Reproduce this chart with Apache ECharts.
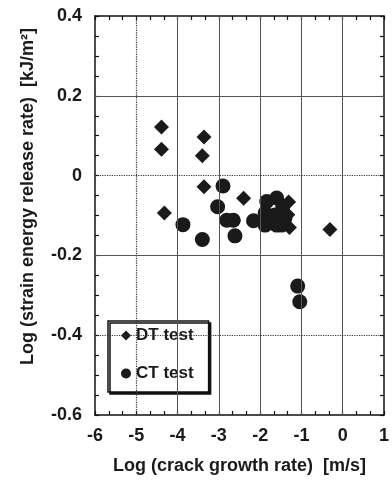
<!DOCTYPE html>
<html>
<head>
<meta charset="utf-8">
<script src="https://cdn.jsdelivr.net/npm/echarts@6/dist/echarts.min.js"></script>
<style>
html,body{margin:0;padding:0;background:#fff;}
#chart{width:392px;height:495px;}
</style>
</head>
<body>
<div id="chart"></div>
<script>
// DT test (diamonds)
var dtX = [-4.39, -4.39, -3.36, -3.40, -3.36, -4.32, -2.40, -1.31, -1.33, -1.29, -0.31];
var dtY = [0.122, 0.066, 0.097, 0.050, -0.028, -0.094, -0.057, -0.066, -0.098, -0.130, -0.135];
// CT test (circles)
var ctX = [-2.90, -3.03, -3.87, -3.40, -2.81, -2.65, -2.61, -2.16, -1.84, -1.60, -1.45, -1.88, -1.64, -1.40, -1.88, -1.60, -1.48, -1.09, -1.04];
var ctY = [-0.026, -0.078, -0.123, -0.160, -0.112, -0.112, -0.151, -0.113, -0.065, -0.056, -0.077, -0.094, -0.099, -0.107, -0.124, -0.124, -0.124, -0.277, -0.316];
// grid lines
var gridXSolid = [-4, -3, -2, -1, 0];
var gridXDotted = [-5];
var gridYSolid = [0.2, -0.2];
var gridYDotted = [0, -0.4];

var seriesNames = ['DT test', 'CT test'];
var xName = 'Log (crack growth rate)  [m/s]';
var yName = 'Log (strain energy release rate)  [kJ/m\u00B2]';

function zip(a, b) { return a.map(function (v, i) { return [v, b[i]]; }); }

var ink = '#1a1a1a';
var font = 'Liberation Sans, Arial, sans-serif';

var markData = [];
gridXSolid.forEach(function (v) { markData.push({ xAxis: v, lineStyle: { type: 'solid', color: '#555', width: 1 } }); });
gridXDotted.forEach(function (v) { markData.push({ xAxis: v, lineStyle: { type: 'dotted', color: '#333', width: 1.2 } }); });
gridYSolid.forEach(function (v) { markData.push({ yAxis: v, lineStyle: { type: 'solid', color: '#555', width: 1 } }); });
gridYDotted.forEach(function (v) { markData.push({ yAxis: v, lineStyle: { type: 'dotted', color: '#333', width: 1.2 } }); });

function axisBase(extra) {
  var o = {
    axisLine: { show: true, onZero: false, lineStyle: { color: '#111', width: 1.5 } },
    axisTick: { show: true, inside: true, length: 4, lineStyle: { color: '#111', width: 1.2 } },
    splitLine: { show: false },
    minorSplitLine: { show: false }
  };
  for (var k in extra) o[k] = extra[k];
  return o;
}

var chart = echarts.init(document.getElementById('chart'), null, { renderer: 'canvas' });
chart.setOption({
  animation: false,
  backgroundColor: '#fff',
  grid: { left: 95, right: 4, top: 16, bottom: 80, containLabel: false },
  xAxis: [
    axisBase({
      type: 'value', position: 'bottom', min: -6, max: 1, interval: 1,
      minorTick: { show: true, splitNumber: 3, length: 4, lineStyle: { color: '#111', width: 1.2 } },
      axisLabel: { show: true, margin: 12, color: ink, fontSize: 18, fontWeight: 'bold', fontFamily: font },
      name: xName, nameLocation: 'middle', nameGap: 42,
      nameTextStyle: { color: ink, fontSize: 18, fontWeight: 'bold', fontFamily: font }
    }),
    axisBase({
      type: 'value', position: 'top', min: -6, max: 1, interval: 1,
      minorTick: { show: true, splitNumber: 3, length: 4, lineStyle: { color: '#111', width: 1.2 } },
      axisLabel: { show: false }
    })
  ],
  yAxis: [
    axisBase({
      type: 'value', position: 'left', min: -0.6, max: 0.4, interval: 0.2,
      minorTick: { show: true, splitNumber: 4, length: 4, lineStyle: { color: '#111', width: 1.2 } },
      axisLabel: { show: true, margin: 13, color: ink, fontSize: 18, fontWeight: 'bold', fontFamily: font,
        formatter: function (v) { var r = Math.round(v * 10) / 10; return r === 0 ? '0' : r.toFixed(1); } },
      name: yName, nameLocation: 'middle', nameGap: 58,
      nameTextStyle: { color: ink, fontSize: 18, fontWeight: 'bold', fontFamily: font, padding: [0, 0, 0, 38] }
    }),
    axisBase({
      type: 'value', position: 'right', min: -0.6, max: 0.4, interval: 0.2,
      minorTick: { show: true, splitNumber: 4, length: 4, lineStyle: { color: '#111', width: 1.2 } },
      axisLabel: { show: false }
    })
  ],
  legend: {
    orient: 'vertical', left: 108, top: 321,
    data: seriesNames,
    itemWidth: 10, itemHeight: 10, itemGap: 21,
    padding: [6, 15, 10, 13],
    backgroundColor: '#fff',
    borderColor: '#111', borderWidth: 1.5, borderRadius: 0,
    shadowColor: '#111', shadowOffsetX: 2, shadowOffsetY: 2, shadowBlur: 0,
    textStyle: { color: ink, fontSize: 17, fontWeight: 'bold', fontFamily: font }
  },
  series: [
    {
      name: 'grid', type: 'scatter', data: [], silent: true,
      markLine: { silent: true, symbol: ['none', 'none'], label: { show: false }, animation: false, data: markData },
      z: 1
    },
    {
      name: seriesNames[0], type: 'scatter', symbol: 'diamond', symbolSize: 15,
      itemStyle: { color: ink, opacity: 1 }, data: zip(dtX, dtY), z: 3
    },
    {
      name: seriesNames[1], type: 'scatter', symbol: 'circle', symbolSize: 15,
      itemStyle: { color: ink, opacity: 1 }, data: zip(ctX, ctY), z: 3
    }
  ]
});
</script>
</body>
</html>
